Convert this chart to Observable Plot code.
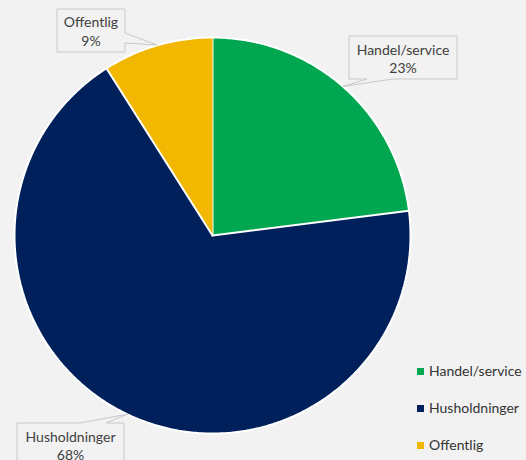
<!DOCTYPE html>
<html><head><meta charset="utf-8">
<script src="https://cdn.jsdelivr.net/npm/d3@7"></script>
<script src="https://cdn.jsdelivr.net/npm/@observablehq/plot@0.6"></script>
<style>
body{margin:0;background:#f2f2f2;font-family:Lato,"Open Sans",sans-serif;}
#c{position:relative;width:526px;height:460px;overflow:hidden;}
#legend{position:absolute;left:417px;top:362px;font-size:14px;color:#333;}
#legend div{height:37px;display:flex;align-items:flex-start;}
#legend span.sw{display:inline-block;width:7px;height:7px;margin-right:5px;margin-top:6px;}
</style>
</head><body>
<div id="c"></div>
<script>
const categories = ["Handel/service", "Husholdninger", "Offentlig"];
const values = [23, 68, 9];
const percentLabels = ["23%", "68%", "9%"];
const colors = ["#00A650", "#00205B", "#F2B700"];

// label callout layout (pixels): box and which edge the pointer leaves from
const callouts = [
  {box: [349, 36, 457, 79], edge: "bottom", base: [367, 393], l1: 50, l2: 68},
  {box: [17, 423, 124, 475], edge: "top", base: [80, 106], l1: 437, l2: 455},
  {box: [57, 9, 125, 52], edge: "right", base: [33, 43], l1: 22, l2: 41}
];

const data = categories.map((name, i) => ({name, value: values[i], label: percentLabels[i]}));
const arcs = d3.pie().sort(null).value(d => d.value)(data);

const points = [];
arcs.forEach(a => {
  points.push({name: a.data.name, x: 0, y: 0});
  const n = Math.max(2, Math.ceil((a.endAngle - a.startAngle) / 0.01));
  for (let k = 0; k <= n; k++) {
    const t = a.startAngle + (a.endAngle - a.startAngle) * k / n;
    points.push({name: a.data.name, x: Math.sin(t), y: Math.cos(t)});
  }
});

const anchors = arcs.map(a => {
  const m = (a.startAngle + a.endAngle) / 2;
  return {x: Math.sin(m), y: Math.cos(m)};
});

function labelMark(index, scales, values, dimensions) {
  const g = d3.create("svg:g");
  arcs.forEach((a, i) => {
    const c = callouts[i];
    const px = scales.x(anchors[i].x), py = scales.y(anchors[i].y);
    const [x1, y1, x2, y2] = c.box;
    let d;
    if (c.edge === "bottom") {
      d = `M${x1},${y1}H${x2}V${y2}H${c.base[1]}L${px},${py}L${c.base[0]},${y2}H${x1}Z`;
    } else if (c.edge === "top") {
      d = `M${x1},${y1}H${c.base[0]}L${px},${py}L${c.base[1]},${y1}H${x2}V${y2}H${x1}Z`;
    } else {
      d = `M${x1},${y1}H${x2}V${c.base[0]}L${px},${py}L${x2},${c.base[1]}V${y2}H${x1}Z`;
    }
    g.append("path").attr("d", d).attr("fill", "#f2f2f2").attr("stroke", "#c8c8c8").attr("stroke-width", 1);
    const cx = (x1 + x2) / 2;
    g.append("text").attr("x", cx).attr("y", c.l1).attr("dy", "0.35em").attr("text-anchor", "middle")
      .attr("font-size", 14).attr("fill", "#404040").text(a.data.name);
    g.append("text").attr("x", cx).attr("y", c.l2).attr("dy", "0.35em").attr("text-anchor", "middle")
      .attr("font-size", 14).attr("fill", "#404040").text(a.data.label);
  });
  return g.node();
}

const chart = Plot.plot({
  width: 526,
  height: 460,
  margin: 0,
  style: {background: "#f2f2f2", fontFamily: "Lato, 'Open Sans', sans-serif", overflow: "visible"},
  x: {domain: [-1, 1], range: [14, 410], axis: null},
  y: {domain: [-1, 1], range: [433, 37], axis: null},
  color: {domain: categories, range: colors},
  marks: [
    Plot.line(points, {x: "x", y: "y", z: "name", fill: "name", stroke: "white", strokeWidth: 2, strokeLinejoin: "miter"}),
    labelMark
  ]
});

const c = document.getElementById("c");
c.appendChild(chart);
const legend = document.createElement("div");
legend.id = "legend";
categories.forEach((name, i) => {
  const row = document.createElement("div");
  row.innerHTML = `<span class="sw" style="background:${colors[i]}"></span><span>${name}</span>`;
  legend.appendChild(row);
});
c.appendChild(legend);
</script>
</body></html>
